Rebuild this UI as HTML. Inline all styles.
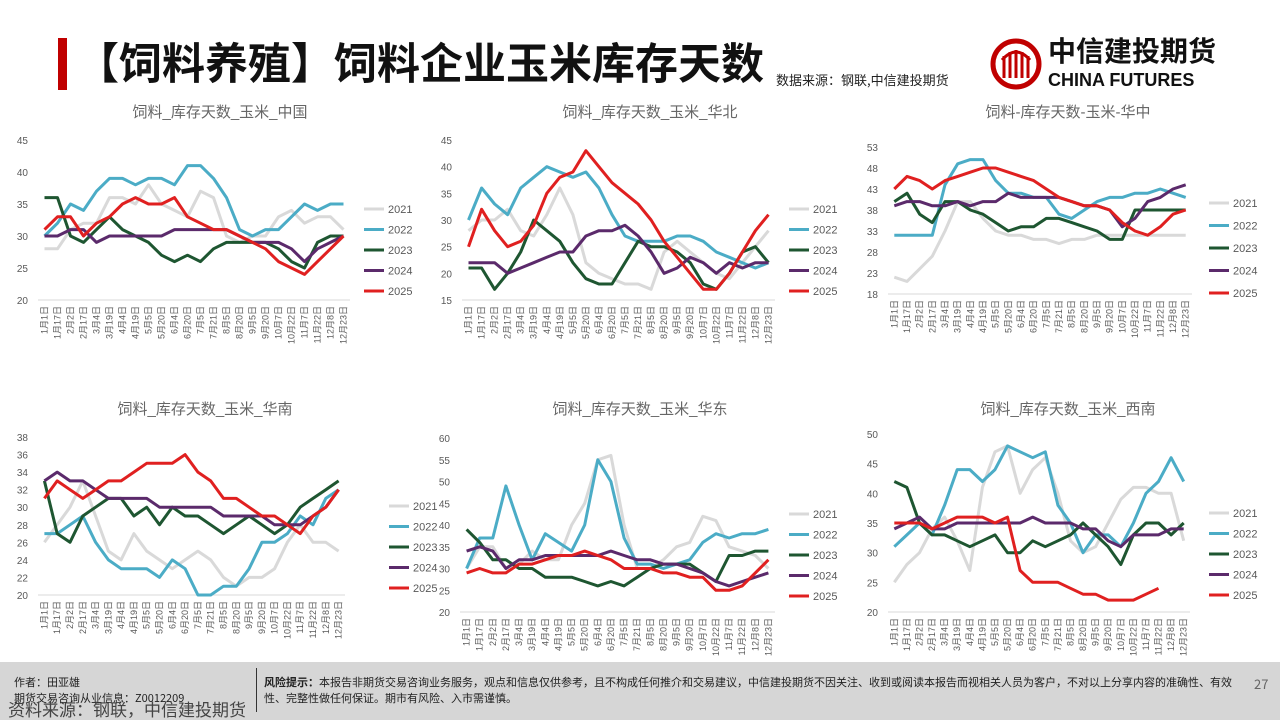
<!DOCTYPE html>
<html><head><meta charset="utf-8">
<style>
body{margin:0;width:1280px;height:720px;overflow:hidden;background:#fff;font-family:"Liberation Sans","Noto Sans CJK SC",sans-serif;position:relative}
.bar{position:absolute;left:58px;top:38px;width:9px;height:52px;background:#c00000}
.title{position:absolute;left:76px;top:30px;font-size:43px;font-weight:bold;color:#111;font-family:"Noto Sans CJK SC",sans-serif;white-space:nowrap}
.src{position:absolute;left:776px;top:70px;font-size:13px;color:#222;font-family:"Noto Sans CJK SC",sans-serif}
.logo{position:absolute;left:990px;top:38px}
.lt{position:absolute;left:1048px;top:32px;font-size:28px;font-weight:bold;color:#111;font-family:"Noto Sans CJK SC",sans-serif;line-height:36px}
.le{position:absolute;left:1048px;top:70px;font-size:18px;font-weight:bold;color:#111}
.foot{position:absolute;left:0;top:662px;width:1280px;height:58px;background:#d6d6d6;font-family:"Noto Sans CJK SC",sans-serif;font-size:11px;color:#222}
svg text{font-family:"Liberation Sans","Noto Sans CJK SC",sans-serif}
</style></head><body>
<div class="bar"></div>
<div class="title">【饲料养殖】饲料企业玉米库存天数</div>
<div class="src">数据来源：钢联,中信建投期货</div>
<svg class="logo" width="52" height="52" viewBox="0 0 52 52"><circle cx="26" cy="26" r="23" fill="none" stroke="#c00000" stroke-width="5"/><path d="M14 40V18M20 40V14M26 40V12M32 40V14M38 40V18" stroke="#c00000" stroke-width="3"/><path d="M12 22Q26 6 40 22" fill="none" stroke="#c00000" stroke-width="3"/></svg>
<div class="lt">中信建投期货</div>
<div class="le">CHINA FUTURES</div>
<svg id="s" width="1280" height="720" style="position:absolute;left:0;top:0"></svg>
<div class="foot">
<div style="position:absolute;left:14px;top:12px">作者：田亚雄</div>
<div style="position:absolute;left:14px;top:28px">期货交易咨询从业信息：Z0012209</div>
<div style="position:absolute;left:8px;top:34px;font-size:17px;color:#444">资料来源：钢联，中信建投期货</div>
<div style="position:absolute;left:256px;top:6px;width:1px;height:44px;background:#333"></div>
<div style="position:absolute;left:264px;top:12px;width:975px"><b>风险提示：</b>本报告非期货交易咨询业务服务，观点和信息仅供参考，且不构成任何推介和交易建议，中信建投期货不因关注、收到或阅读本报告而视相关人员为客户，不对以上分享内容的准确性、有效性、完整性做任何保证。期市有风险、入市需谨慎。</div>
<div style="position:absolute;left:1254px;top:12px;font-size:13px;color:#666">27</div>
</div>
<script>
const C=['#d9d9d9','#4bacc6','#1e5631','#5b2a6b','#e02020'];
const Y=['2021','2022','2023','2024','2025'];
const charts=[
{t:'饲料_库存天数_玉米_中国',tx:220,ty:112,x0:38,x1:350,yt:140,yb:300,mn:20,mx:45,st:5,lx:370,ly:209,lg:20.5,
d:[[28,28,31,32,32,36,36,35,38,35,34,33,37,36,30,29,30,30,33,34,32,33,33,31],
[30,32,35,34,37,39,39,38,39,39,38,41,41,39,36,31,30,31,31,33,35,34,35,35],
[36,36,30,29,31,33,31,30,29,27,26,27,26,28,29,29,29,29,28,26,25,29,30,30],
[30,30,31,31,29,30,30,30,30,30,31,31,31,31,31,30,29,29,29,28,26,28,29,30],
[31,33,33,30,32,33,35,36,35,35,36,33,32,31,31,30,29,28,26,25,24,26,28,30]]},
{t:'饲料_库存天数_玉米_华北',tx:650,ty:112,x0:462,x1:775,yt:140,yb:300,mn:15,mx:45,st:5,lx:795,ly:209,lg:20.5,
d:[[28,30,30,32,28,27,31,36,31,22,20,19,18,18,17,24,26,24,22,20,19,22,25,28],
[30,36,33,31,36,38,40,39,38,39,36,31,27,26,26,26,27,27,26,24,23,22,21,22],
[21,21,17,20,24,30,28,26,22,19,18,18,22,26,25,25,24,22,18,17,20,24,25,22],
[22,22,22,20,21,22,23,24,24,27,28,28,29,27,24,20,21,23,22,20,22,21,22,22],
[25,32,28,25,26,29,35,38,39,43,40,37,35,33,30,26,23,20,17,17,20,24,28,31]]},
{t:'饲料-库存天数-玉米-华中',tx:1068,ty:112,x0:888,x1:1192,yt:147,yb:294,mn:18,mx:53,st:5,lx:1215,ly:203,lg:22.5,
d:[[22,21,24,27,33,40,40,36,33,32,32,31,31,30,31,31,32,32,32,32,32,32,32,32],
[32,32,32,32,44,49,50,50,45,42,42,41,41,37,36,38,40,41,41,42,42,43,42,41],
[40,42,37,35,40,40,38,37,35,33,34,34,36,36,35,34,33,31,31,38,38,38,38,38],
[39,40,40,39,39,40,39,40,40,42,41,41,41,41,40,39,39,38,34,36,40,41,43,44],
[43,46,45,43,45,46,47,48,48,47,46,45,43,41,40,39,39,38,35,33,32,34,37,38]]},
{t:'饲料_库存天数_玉米_华南',tx:205,ty:409,x0:38,x1:345,yt:437,yb:595,mn:20,mx:38,st:2,lx:395,ly:506,lg:20.5,
d:[[26,28,30,33,29,25,24,27,25,24,23,24,25,24,22,21,22,22,23,26,28,26,26,25],
[27,27,28,29,26,24,23,23,23,22,24,23,20,20,21,21,23,26,26,27,29,28,31,32],
[33,27,26,29,30,31,31,29,30,28,30,29,29,28,27,28,29,28,27,28,30,31,32,33],
[33,34,33,33,32,31,31,31,31,30,30,30,30,30,29,29,29,29,28,28,28,29,30,32],
[31,33,32,31,32,33,33,34,35,35,35,36,34,33,31,31,30,29,29,28,27,29,30,32]]},
{t:'饲料_库存天数_玉米_华东',tx:640,ty:409,x0:460,x1:775,yt:438,yb:612,mn:20,mx:60,st:5,lx:795,ly:514,lg:20.5,
d:[[30,35,35,30,31,34,32,32,40,45,55,56,40,30,30,32,35,36,42,41,35,34,33,30],
[30,37,37,49,40,32,38,36,34,40,55,50,37,31,31,30,31,32,36,38,37,38,38,39],
[39,36,32,32,30,30,28,28,28,27,26,27,26,28,30,31,31,31,29,27,33,33,34,34],
[34,35,34,30,32,32,33,33,33,33,33,34,33,32,32,31,31,30,29,27,26,27,28,29],
[29,30,29,29,31,31,32,33,33,34,33,32,30,30,30,29,29,28,28,25,25,26,29,32]]},
{t:'饲料_库存天数_玉米_西南',tx:1068,ty:409,x0:888,x1:1190,yt:434,yb:612,mn:20,mx:50,st:5,lx:1215,ly:513,lg:20.5,
d:[[25,28,30,34,36,32,27,41,47,48,40,44,46,40,32,30,31,35,39,41,41,40,40,32],
[31,33,35,33,38,44,44,42,44,48,47,46,47,38,35,30,33,33,31,35,40,42,46,42],
[42,41,35,33,33,32,31,32,33,30,30,32,31,32,33,35,33,31,28,33,35,35,33,35],
[34,35,36,34,34,35,35,35,35,35,35,36,35,35,35,34,34,32,31,33,33,33,34,34],
[35,35,35,34,35,36,36,36,35,36,27,25,25,25,24,23,23,22,22,22,23,24,null,null]]}];
const labs=['1月1日','1月17日','2月2日','2月17日','3月4日','3月19日','4月4日','4月19日','5月5日','5月20日','6月4日','6月20日','7月5日','7月21日','8月5日','8月20日','9月5日','9月20日','10月7日','10月22日','11月7日','11月22日','12月8日','12月23日'];
let h='';
for(const c of charts){
 h+=`<text x="${c.tx}" y="${c.ty+5}" font-size="15" fill="#666" text-anchor="middle">${c.t}</text>`;
 for(let v=c.mn;v<=c.mx;v+=c.st){const y=c.yb-(v-c.mn)/(c.mx-c.mn)*(c.yb-c.yt);
  h+=`<text x="${c.x0-10}" y="${y+4}" font-size="10" fill="#595959" text-anchor="end">${v}</text>`;
  if(v==c.mn)h+=`<line x1="${c.x0}" x2="${c.x1}" y1="${y}" y2="${y}" stroke="#d9d9d9"/>`;}
 const n=24,dx=(c.x1-c.x0)/n;
 for(let i=0;i<n;i++){const x=c.x0+dx*(i+0.5);
  h+=`<text transform="translate(${x+3},${c.yb+6}) rotate(-90)" font-size="9" fill="#595959" text-anchor="end">${labs[i]}</text>`;}
 c.d.forEach((s,k)=>{let p=[];s.forEach((v,i)=>{if(v!=null)p.push((c.x0+dx*(i+0.5)).toFixed(1)+','+(c.yb-(v-c.mn)/(c.mx-c.mn)*(c.yb-c.yt)).toFixed(1))});
  h+=`<polyline points="${p.join(' ')}" fill="none" stroke="${C[k]}" stroke-width="3" stroke-linejoin="round"/>`;
  const ly=c.ly+k*c.lg;
  h+=`<line x1="${c.lx-6}" x2="${c.lx+14}" y1="${ly}" y2="${ly}" stroke="${C[k]}" stroke-width="3"/><text x="${c.lx+18}" y="${ly+4}" font-size="11" fill="#595959">${Y[k]}</text>`;});
}
document.getElementById('s').innerHTML=h;
</script>
</body></html>
